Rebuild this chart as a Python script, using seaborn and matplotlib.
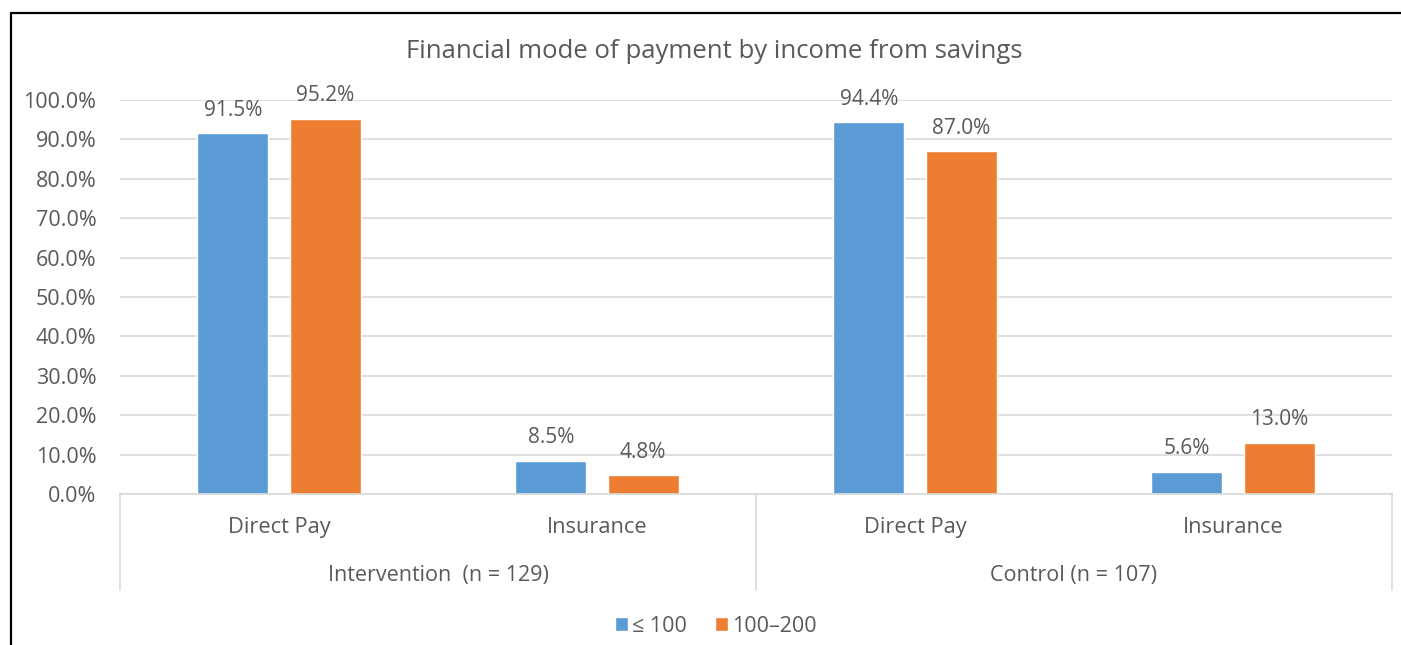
import matplotlib
matplotlib.use("Agg")
import matplotlib.pyplot as plt
import seaborn as sns
import pandas as pd
from matplotlib.patches import Patch
from matplotlib.lines import Line2D
import matplotlib.transforms as mtransforms

# ---- data ----
groups = ["Intervention  (n = 129)", "Control (n = 107)"]
modes = ["Direct Pay", "Insurance"]
series = ["≤ 100", "100–200"]
low_income = [91.5, 8.5, 94.4, 5.6]      # ≤ 100
mid_income = [95.2, 4.8, 87.0, 13.0]     # 100–200
title = "Financial mode of payment by income from savings"
yticks = [0, 10, 20, 30, 40, 50, 60, 70, 80, 90, 100]

colors = ["#5B9BD5", "#ED7D31"]
text_color = "#595959"
grid_color = "#D9D9D9"

cats = [f"{g}|{m}" for g in groups for m in modes]
df = pd.DataFrame({
    "cat": cats * 2,
    "income": [series[0]] * 4 + [series[1]] * 4,
    "value": low_income + mid_income,
})

sns.set_theme(style="white")
plt.rcParams["font.family"] = ["Open Sans", "DejaVu Sans"]

fig = plt.figure(figsize=(14.01, 6.45), dpi=100)
ax = fig.add_axes([120 / 1401, 1 - 494 / 645, (1392 - 120) / 1401, (494 - 100) / 645])

sns.barplot(data=df, x="cat", y="value", hue="income", order=cats,
            hue_order=series, palette=colors, width=0.58, gap=0.23,
            legend=False, ax=ax, saturation=1)

ax.set_xlim(-0.5, 3.5)
ax.set_ylim(0, 100)
ax.set_yticks(yticks)
ax.set_yticklabels([f"{v:.1f}%" for v in yticks], color=text_color, fontsize=15.5)
ax.tick_params(axis="y", length=0, pad=17)
ax.set_xticks([])
ax.set_xlabel("")
ax.set_ylabel("")
ax.yaxis.grid(True, color=grid_color, linewidth=1.2)
ax.set_axisbelow(True)
for s in ["top", "right", "left"]:
    ax.spines[s].set_visible(False)
ax.spines["bottom"].set_color(grid_color)
ax.spines["bottom"].set_linewidth(1.2)

# value labels
for cont in ax.containers:
    ax.bar_label(cont, labels=[f"{v:.1f}%" for v in cont.datavalues],
                 padding=9, color=text_color, fontsize=15)

# multi-level category axis
trans = mtransforms.blended_transform_factory(ax.transData, ax.transAxes)
for i, c in enumerate(cats):
    ax.text(i, -0.086, c.split("|")[1], transform=trans, ha="center", va="center",
            color=text_color, fontsize=15.7)
for j, g in enumerate(groups):
    ax.text(j * 2 + 0.5, -0.208, g, transform=trans, ha="center", va="center",
            color=text_color, fontsize=15.5)
for xv in [-0.5, 1.5, 3.5]:
    ax.add_line(Line2D([xv, xv], [0, -0.244], transform=trans, color=grid_color,
                       linewidth=1.2, clip_on=False))

# title
fig.text(714 / 1401, 1 - 51 / 645, title, ha="center", va="center",
         color=text_color, fontsize=18.5)

# legend
handles = [Patch(facecolor=colors[0], label=series[0]),
           Patch(facecolor=colors[1], label=series[1])]
leg = fig.legend(handles=handles, loc="center", bbox_to_anchor=(716 / 1401, 1 - 626 / 645),
                 ncol=2, frameon=False, handlelength=0.6, handleheight=0.6,
                 handletextpad=0.2, columnspacing=1.3, fontsize=15.5)
for t in leg.get_texts():
    t.set_color(text_color)

# outer frame (top and left edges visible)
fig.add_artist(Line2D([11 / 1401, 11 / 1401], [0, 1 - 13 / 645], transform=fig.transFigure,
                      color="black", linewidth=1.6))
fig.add_artist(Line2D([11 / 1401, 1], [1 - 13 / 645, 1 - 13 / 645], transform=fig.transFigure,
                      color="black", linewidth=1.6))

fig.savefig("out.png", dpi=100, facecolor="white")
